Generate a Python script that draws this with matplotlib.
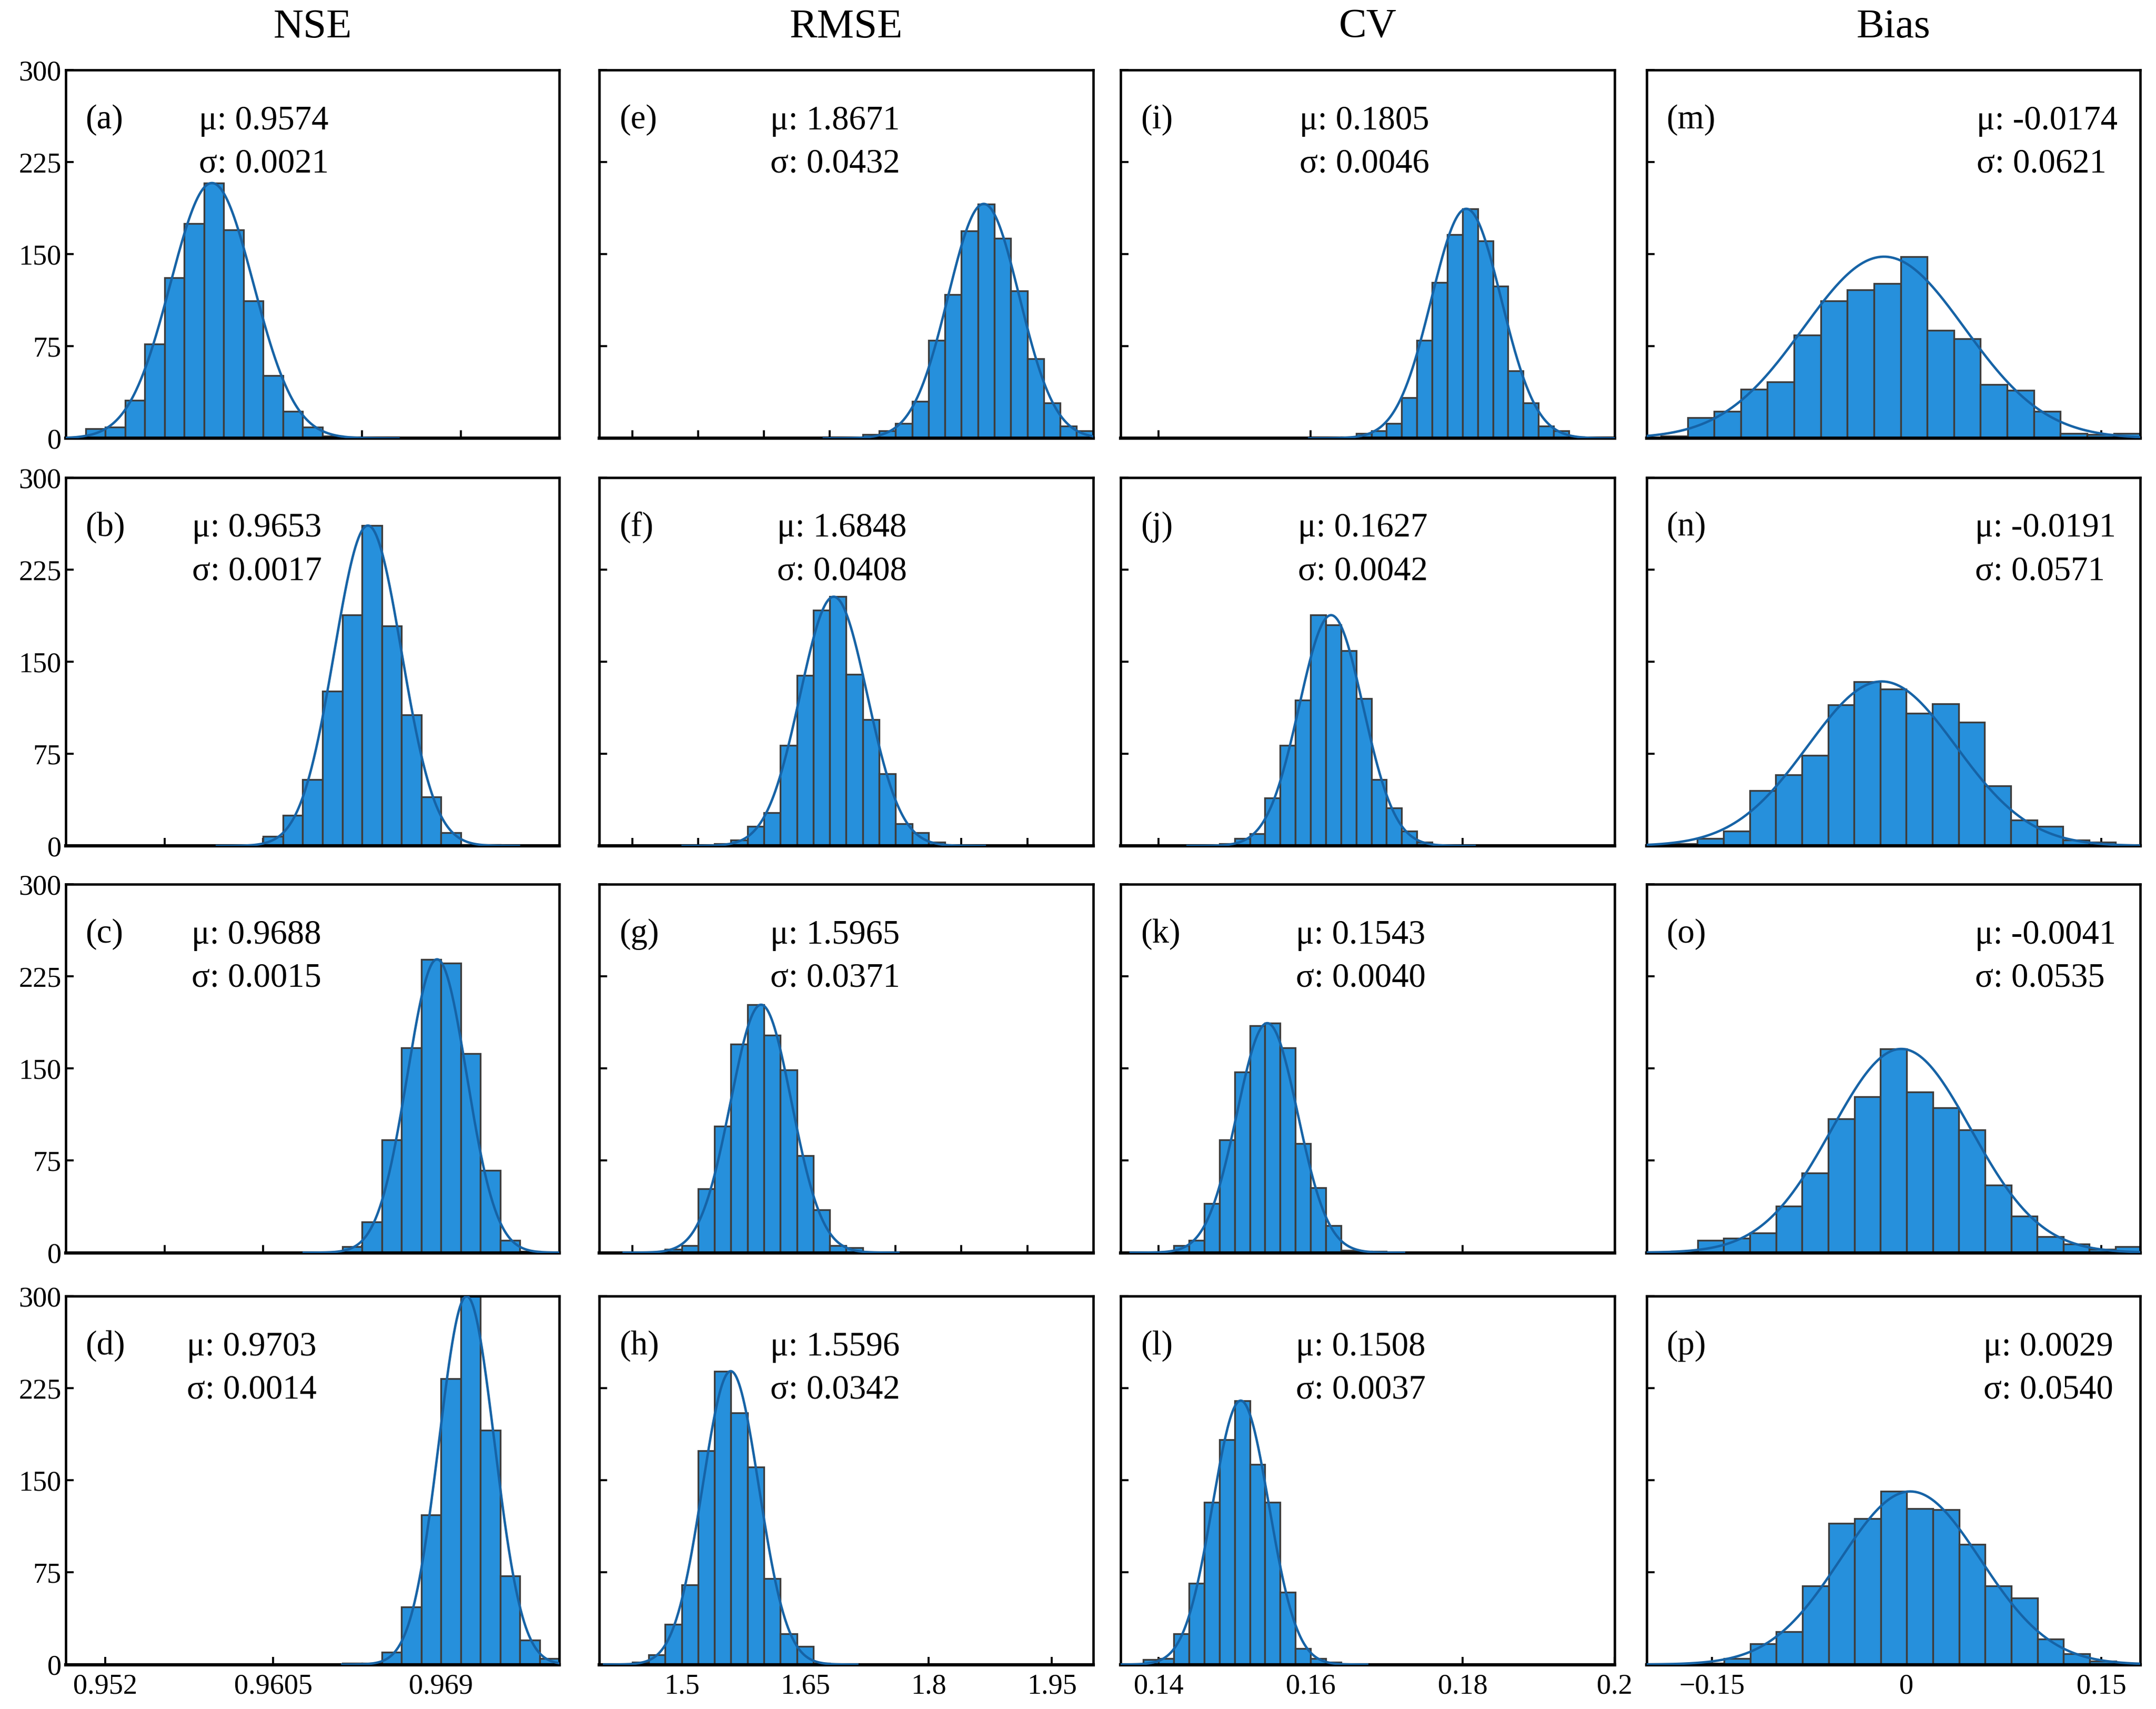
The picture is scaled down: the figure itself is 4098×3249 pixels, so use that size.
import matplotlib
matplotlib.use('Agg')
import matplotlib.pyplot as plt
import numpy as np

# bar counts, one list per row (a-d, e-h, i-l, m-p)
nse_counts = [
    [8, 9, 31, 77, 131, 175, 208, 170, 112, 51, 22, 9, 2, 1],
    [8, 25, 54, 126, 188, 261, 179, 107, 40, 11, 1, 1],
    [5, 25, 92, 167, 239, 236, 162, 67, 10, 1],
    [1, 1, 10, 47, 122, 233, 300, 191, 72, 20, 5],
]
nse_start = [0.951, 0.960, 0.964, 0.964]
nse_width = [0.001, 0.001, 0.001, 0.001]
nse_mu = [0.9574, 0.9653, 0.9688, 0.9703]
nse_sigma = [0.0021, 0.0017, 0.0015, 0.0014]

rmse_counts = [
    [3, 6, 12, 30, 80, 117, 169, 191, 163, 120, 65, 29, 10, 6],
    [2, 5, 16, 27, 82, 139, 192, 203, 140, 103, 59, 18, 11, 3],
    [3, 6, 52, 103, 170, 202, 177, 149, 79, 35, 6, 4],
    [2, 8, 33, 65, 174, 239, 205, 161, 70, 25, 15, 1],
]
rmse_start = [1.72, 1.54, 1.48, 1.44]
rmse_width = [0.02, 0.02, 0.02, 0.02]
rmse_mu = [1.8671, 1.6848, 1.5965, 1.5596]
rmse_sigma = [0.0432, 0.0408, 0.0371, 0.0342]

cv_counts = [
    [1, 4, 6, 12, 33, 80, 127, 166, 187, 161, 124, 55, 29, 10, 6, 1],
    [2, 6, 10, 39, 82, 119, 188, 180, 159, 120, 54, 31, 12, 3],
    [6, 10, 40, 92, 147, 185, 187, 167, 89, 53, 22, 2, 1, 1],
    [4, 5, 25, 66, 132, 183, 215, 163, 132, 59, 13, 5, 2],
]
cv_start = [0.164, 0.148, 0.142, 0.138]
cv_width = [0.002, 0.002, 0.002, 0.002]
cv_mu = [0.1805, 0.1627, 0.1543, 0.1508]
cv_sigma = [0.0046, 0.0042, 0.0040, 0.0037]

bias_counts = [
    [2, 17, 22, 40, 46, 84, 112, 121, 126, 148, 88, 81, 44, 39, 22, 4, 3, 4],
    [2, 6, 12, 45, 58, 74, 115, 134, 128, 108, 116, 101, 49, 21, 16, 5, 3],
    [1, 10, 12, 16, 38, 65, 109, 127, 166, 131, 118, 100, 55, 30, 13, 7, 3, 5],
    [1, 5, 17, 27, 64, 115, 119, 141, 127, 126, 98, 64, 54, 21, 9, 3, 1],
]
bias_start = [-0.1891, -0.1811, -0.1809, -0.1606]
bias_width = [0.0205, 0.0201, 0.0201, 0.0201]
bias_mu = [-0.0174, -0.0191, -0.0041, 0.0029]
bias_sigma = [0.0621, 0.0571, 0.0535, 0.0540]

titles = ['NSE', 'RMSE', 'CV', 'Bias']
panel_letters = [['(a)', '(b)', '(c)', '(d)'],
                 ['(e)', '(f)', '(g)', '(h)'],
                 ['(i)', '(j)', '(k)', '(l)'],
                 ['(m)', '(n)', '(o)', '(p)']]

xlims = [(0.950, 0.975), (1.4, 2.0), (0.135, 0.2), (-0.2, 0.18)]
upper_ticks = [[0.955, 0.960, 0.965, 0.970],
               [1.44, 1.52, 1.60, 1.68, 1.76, 1.84, 1.92],
               [0.14, 0.16, 0.18],
               [-0.15, 0.0, 0.15]]
bottom_ticks = [[0.952, 0.9605, 0.969],
                [1.5, 1.65, 1.8, 1.95],
                [0.14, 0.16, 0.18, 0.2],
                [-0.15, 0.0, 0.15]]
bottom_ticklabels = [['0.952', '0.9605', '0.969'],
                     ['1.5', '1.65', '1.8', '1.95'],
                     ['0.14', '0.16', '0.18', '0.2'],
                     ['\u22120.15', '0', '0.15']]
y_ticks = [0, 75, 150, 225, 300]

# where the mu/sigma text starts inside each panel (axes fraction)
stat_x = [[0.27, 0.256, 0.255, 0.245],
          [0.346, 0.36, 0.346, 0.346],
          [0.362, 0.359, 0.355, 0.355],
          [0.668, 0.665, 0.665, 0.682]]

BAR_COLOR = '#2690dc'
EDGE_COLOR = '#3d3d3d'
CURVE_COLOR = '#1663a6'

plt.rcParams['font.family'] = ['Liberation Serif', 'DejaVu Serif']

fig = plt.figure(figsize=(13.66, 10.83), dpi=300)

col_left = [0.0305, 0.278, 0.5198, 0.7638]
row_bottom = [0.7435, 0.505, 0.267, 0.026]
ax_w, ax_h = 0.229, 0.2155

columns = [
    (nse_counts, nse_start, nse_width, nse_mu, nse_sigma),
    (rmse_counts, rmse_start, rmse_width, rmse_mu, rmse_sigma),
    (cv_counts, cv_start, cv_width, cv_mu, cv_sigma),
    (bias_counts, bias_start, bias_width, bias_mu, bias_sigma),
]


def draw_panel(ax, counts, start, width, mu, sigma, xlim):
    counts = np.array(counts, dtype=float)
    lefts = start + width * np.arange(len(counts))
    ax.bar(lefts, counts, width=width, align='edge', color=BAR_COLOR,
           edgecolor=EDGE_COLOR, linewidth=0.8, zorder=2)
    # gaussian with the given mu/sigma, peak scaled to the tallest bar
    lo = max(xlim[0], mu - 4.5 * sigma)
    hi = min(xlim[1], mu + 4.5 * sigma)
    xs = np.linspace(lo, hi, 400)
    ys = counts.max() * np.exp(-0.5 * ((xs - mu) / sigma) ** 2)
    ax.plot(xs, ys, color=CURVE_COLOR, lw=1.1, zorder=3)


for c in range(4):
    counts_l, start_l, width_l, mu_l, sigma_l = columns[c]
    for r in range(4):
        ax = fig.add_axes([col_left[c], row_bottom[r], ax_w, ax_h])
        draw_panel(ax, counts_l[r], start_l[r], width_l[r], mu_l[r], sigma_l[r], xlims[c])
        ax.set_xlim(*xlims[c])
        ax.set_ylim(0, 300)
        ax.set_yticks(y_ticks)
        if c == 0:
            ax.set_yticklabels([str(v) for v in y_ticks])
        else:
            ax.set_yticklabels([])
        if r == 3:
            ax.set_xticks(bottom_ticks[c])
            ax.set_xticklabels(bottom_ticklabels[c])
        else:
            ax.set_xticks(upper_ticks[c])
            ax.set_xticklabels([])
        ax.tick_params(direction='in', length=3.5, width=0.9, labelsize=13,
                       top=False, right=False)
        ax.tick_params(axis='x', pad=4)
        ax.tick_params(axis='y', pad=2)
        for s in ax.spines.values():
            s.set_linewidth(1.1)
        ax.spines['bottom'].set_linewidth(1.5)

        ax.text(0.04, 0.865, panel_letters[c][r], transform=ax.transAxes,
                fontsize=15.5, ha='left', va='center')
        ax.text(stat_x[c][r], 0.862, '\u03bc: %.4f' % mu_l[r], transform=ax.transAxes,
                fontsize=15.5, ha='left', va='center')
        ax.text(stat_x[c][r], 0.745, '\u03c3: %.4f' % sigma_l[r], transform=ax.transAxes,
                fontsize=15.5, ha='left', va='center')

    fig.text(col_left[c] + ax_w / 2, 0.984, titles[c], fontsize=19,
             ha='center', va='center')

fig.savefig('out.png', dpi=300)
